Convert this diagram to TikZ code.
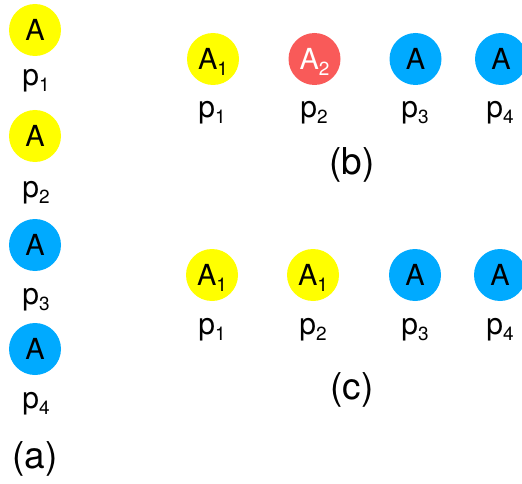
\documentclass[tikz,border=0pt]{standalone}
\usepackage{fontspec}
\setmainfont{TeX Gyre Heros}
\definecolor{ballyellow}{HTML}{FFFF00}
\definecolor{ballred}{HTML}{F95A59}
\definecolor{ballblue}{HTML}{00AAFF}
% lowered index digit
\newcommand\idx[1]{\raisebox{-0.2em}{\fontsize{19}{19}\selectfont #1}}
\begin{document}
\begin{tikzpicture}[x=1pt,y=-1pt,
  ball/.style={circle, minimum size=52pt, inner sep=0pt,
    text height=21pt, text depth=0pt, font=\fontsize{29}{29}\selectfont},
  yball/.style={ball, fill=ballyellow},
  rball/.style={ball, fill=ballred, text=white},
  bball/.style={ball, fill=ballblue},
  plabel/.style={anchor=base, inner sep=0pt, font=\fontsize{30}{30}\selectfont},
  caption/.style={anchor=base, inner sep=0pt, font=\fontsize{37}{37}\selectfont}]
\clip (0,0) rectangle (522,484);

% (a) column
\node[yball] (a1) at (35,30) {A};
\node[plabel] (ap1) at (36,86) {p\idx{1}};
\node[yball] (a2) at (35,136) {A};
\node[plabel] (ap2) at (36,197) {p\idx{2}};
\node[bball] (a3) at (35,245) {A};
\node[plabel] (ap3) at (36,304) {p\idx{3}};
\node[bball] (a4) at (35,349) {A};
\node[plabel] (ap4) at (36,408) {p\idx{4}};
\node[caption] (capa) at (35,468) {(a)};

% (b) row
\node[yball] (b1) at (213,59) {A\idx{1}};
\node[rball] (b2) at (314.5,59) {A\idx{2}};
\node[bball] (b3) at (415.5,59) {A};
\node[bball] (b4) at (501,59) {A};
\node[plabel] (bp1) at (212,118) {p\idx{1}};
\node[plabel] (bp2) at (314,118) {p\idx{2}};
\node[plabel] (bp3) at (415,118) {p\idx{3}};
\node[plabel] (bp4) at (500,118) {p\idx{4}};
\node[caption] (capb) at (352,174) {(b)};

% (c) row
\node[yball] (c1) at (212,275) {A\idx{1}};
\node[yball] (c2) at (313,275) {A\idx{1}};
\node[bball] (c3) at (415,275) {A};
\node[bball] (c4) at (500,275) {A};
\node[plabel] (cp1) at (212,334) {p\idx{1}};
\node[plabel] (cp2) at (313,334) {p\idx{2}};
\node[plabel] (cp3) at (415,334) {p\idx{3}};
\node[plabel] (cp4) at (500,334) {p\idx{4}};
\node[caption] (capc) at (352,399) {(c)};
\end{tikzpicture}
\end{document}
